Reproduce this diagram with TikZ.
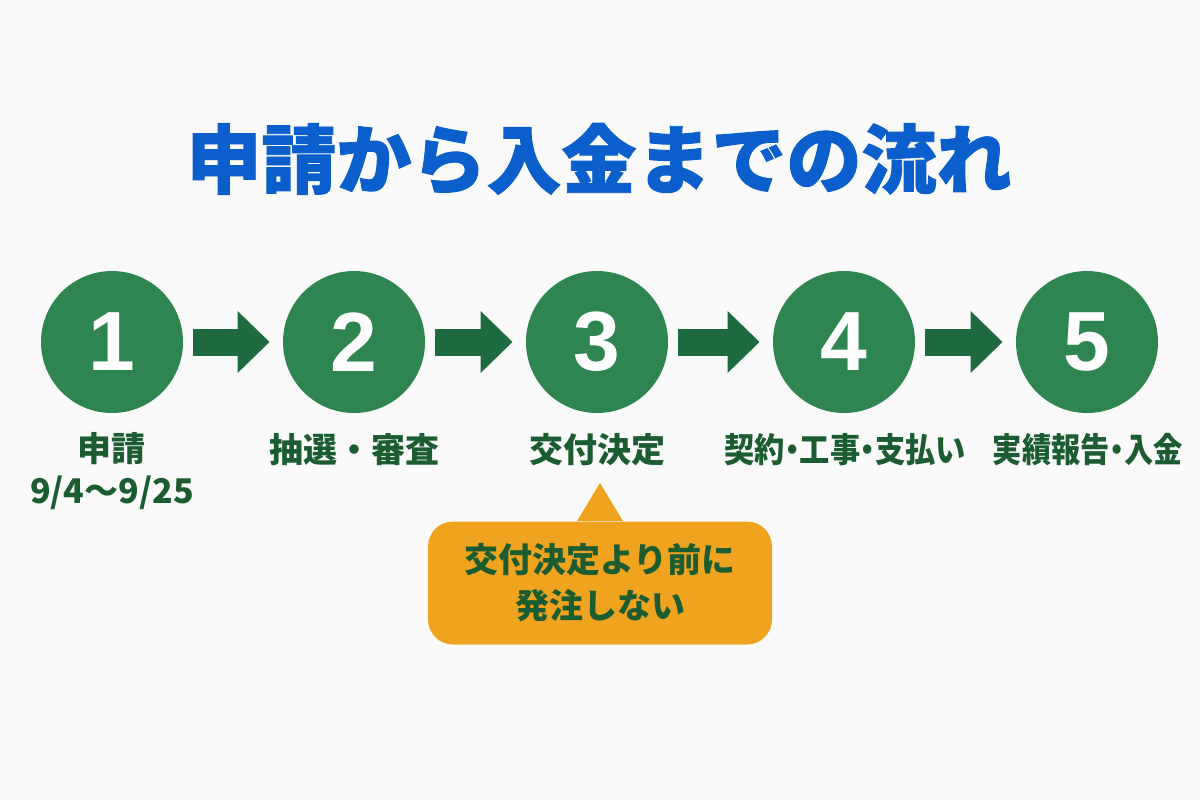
\documentclass[tikz,border=0pt]{standalone}
\usepackage{fontspec}
\setmainfont{Noto Sans CJK JP}
\newfontfamily\numfont{Liberation Sans}
\newfontfamily\paltfont{Noto Sans CJK JP}[RawFeature=+palt]
\newfontfamily\heavyfont{Noto Sans CJK JP}[BoldFeatures={FakeBold=1.2}]
\usetikzlibrary{positioning,arrows.meta}
\definecolor{stepgreen}{HTML}{2E8550}
\definecolor{arrowgreen}{HTML}{1F6B40}
\definecolor{labelgreen}{HTML}{1B5C30}
\definecolor{titleblue}{HTML}{0A5FCC}
\definecolor{noteorange}{HTML}{F0A31E}

\begin{document}
\begin{tikzpicture}[x=0.5pt,y=-0.5pt,numcircle/.style={circle, fill=stepgreen, minimum size=71pt, inner sep=0pt, text=white, font=\numfont\bfseries\fontsize{42}{42}\selectfont},flowarrow/.style={arrowgreen, line width=13.5pt, -{Triangle[width=30pt,length=16pt]}, shorten <=5pt, shorten >=6.5pt},steplabel/.style={align=center, text=labelgreen, inner sep=0pt, font=\bfseries\fontsize{17}{21}\selectfont},notebox/.style={fill=noteorange, rounded corners=12.5pt, minimum width=172pt, minimum height=61.5pt, align=center, text=labelgreen, font=\bfseries\fontsize{17}{23}\selectfont}]
\fill[white!98!black] (0,0) rectangle (1200,800);
\useasboundingbox (0,0) rectangle (1200,800);
\node[text=titleblue, font=\heavyfont\bfseries\fontsize{37.5}{37.5}\selectfont] (title) at (599,159) {申請から入金までの流れ};
\foreach \i/\x in {1/112,2/354,3/597,4/844,5/1087}
  \node[numcircle] (c\i) at (\x,342) {\i};
\foreach \i/\j in {1/2,2/3,3/4,4/5}
  \draw[flowarrow] (c\i) -- (c\j);
\node[steplabel] (l1) at (112,471) {申請\\9/4〜9/25};
\node[steplabel] (l2) at (354,450) {抽選・審査};
\node[steplabel] (l3) at (597,450) {交付決定};
\node[steplabel] (l4) at (845,450) {\scalebox{0.89}[1]{\paltfont 契約・工事・支払い}};
\node[steplabel] (l5) at (1088,450) {\scalebox{0.86}[1]{\paltfont 実績報告・入金}};
\node[notebox] (note) at (600,583) {交付決定より前に\\発注しない};
\coordinate (tip) at (600,483);
\fill[noteorange] ([xshift=-11.5pt]note.north) -- (tip) -- ([xshift=11.5pt]note.north) -- cycle;
\end{tikzpicture}
\end{document}
